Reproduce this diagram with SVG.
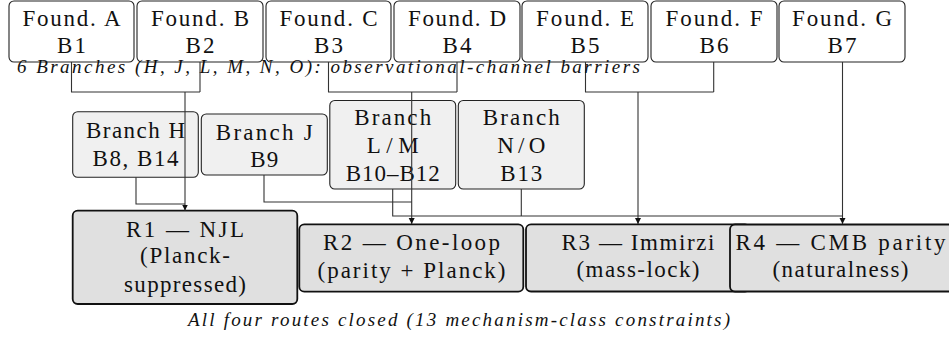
<svg xmlns="http://www.w3.org/2000/svg" width="949" height="344" viewBox="0 0 949 344">
<style>
.f{fill:#ffffff;stroke:#222;stroke-width:1.1}
.b{fill:#f0f0f0;stroke:#222;stroke-width:1.1}
.r{fill:#e0e0e0;stroke:#111;stroke-width:1.8}
.t{font-family:'Liberation Serif','DejaVu Serif',serif;font-size:23px;fill:#111;text-anchor:middle}
.c{font-family:'Liberation Serif','DejaVu Serif',serif;font-style:italic;font-size:19px;fill:#111}
.ln{fill:none;stroke:#333;stroke-width:1.1}
</style>
<defs>
<marker id="ah" markerUnits="userSpaceOnUse" markerWidth="8" markerHeight="8" refX="6" refY="3" orient="auto">
<path d="M0,0 L6,3 L0,6 z" fill="#111"/>
</marker>
</defs>
<rect x="0" y="0" width="949" height="344" fill="#ffffff"/>

<g id="foundA"><rect class="f" x="9" y="1" width="125" height="61" rx="5"/><text class="t" x="71.5" y="26" textLength="98" lengthAdjust="spacing">Found. A</text><text class="t" x="71.5" y="53" textLength="29" lengthAdjust="spacing">B1</text></g>
<g id="foundB"><rect class="f" x="137" y="1" width="126" height="61" rx="5"/><text class="t" x="200" y="26" textLength="98" lengthAdjust="spacing">Found. B</text><text class="t" x="200" y="53" textLength="29" lengthAdjust="spacing">B2</text></g>
<g id="foundC"><rect class="f" x="266" y="1" width="125" height="61" rx="5"/><text class="t" x="328.5" y="26" textLength="98" lengthAdjust="spacing">Found. C</text><text class="t" x="328.5" y="53" textLength="29" lengthAdjust="spacing">B3</text></g>
<g id="foundD"><rect class="f" x="394" y="1" width="126" height="61" rx="5"/><text class="t" x="457" y="26" textLength="98" lengthAdjust="spacing">Found. D</text><text class="t" x="457" y="53" textLength="29" lengthAdjust="spacing">B4</text></g>
<g id="foundE"><rect class="f" x="522" y="1" width="126" height="61" rx="5"/><text class="t" x="585" y="26" textLength="98" lengthAdjust="spacing">Found. E</text><text class="t" x="585" y="53" textLength="29" lengthAdjust="spacing">B5</text></g>
<g id="foundF"><rect class="f" x="651" y="1" width="126" height="61" rx="5"/><text class="t" x="714" y="26" textLength="97" lengthAdjust="spacing">Found. F</text><text class="t" x="714" y="53" textLength="29" lengthAdjust="spacing">B6</text></g>
<g id="foundG"><rect class="f" x="779" y="1" width="126" height="61" rx="5"/><text class="t" x="842" y="26" textLength="100" lengthAdjust="spacing">Found. G</text><text class="t" x="842" y="53" textLength="29" lengthAdjust="spacing">B7</text></g>

<g id="branchH"><rect class="b" x="72.7" y="111.7" width="125.6" height="65.6" rx="5"/><text class="t" x="135.5" y="137.7" textLength="99" lengthAdjust="spacing">Branch H</text><text class="t" x="135.5" y="165.7" textLength="86" lengthAdjust="spacing">B8, B14</text></g>
<g id="branchJ"><rect class="b" x="201.3" y="114" width="126" height="61" rx="5"/><text class="t" x="264.3" y="140" textLength="97" lengthAdjust="spacing">Branch J</text><text class="t" x="264.3" y="167" textLength="28" lengthAdjust="spacing">B9</text></g>
<g id="branchLM"><rect class="b" x="329.8" y="100.5" width="125.9" height="88.5" rx="5"/><text class="t" x="392.7" y="125" textLength="77" lengthAdjust="spacing">Branch</text><text class="t" x="392.7" y="153.3" textLength="52" lengthAdjust="spacing">L/M</text><text class="t" x="392.7" y="181" textLength="94" lengthAdjust="spacing">B10–B12</text></g>
<g id="branchNO"><rect class="b" x="458.3" y="100.5" width="126" height="88.5" rx="5"/><text class="t" x="521.3" y="124.5" textLength="77" lengthAdjust="spacing">Branch</text><text class="t" x="521.3" y="153.3" textLength="48" lengthAdjust="spacing">N/O</text><text class="t" x="521.3" y="180.7" textLength="42" lengthAdjust="spacing">B13</text></g>

<g id="R1"><rect class="r" x="72.7" y="210.7" width="224.6" height="93.3" rx="5"/><text class="t" x="185" y="236.7" textLength="118" lengthAdjust="spacing">R1 — NJL</text><text class="t" x="185" y="263.3" textLength="90" lengthAdjust="spacing">(Planck-</text><text class="t" x="185" y="291.7" textLength="122" lengthAdjust="spacing">suppressed)</text></g>
<g id="R2"><rect class="r" x="299.3" y="224.3" width="224" height="67.4" rx="5"/><text class="t" x="411.5" y="250" textLength="177" lengthAdjust="spacing">R2 — One-loop</text><text class="t" x="411.5" y="278" textLength="188" lengthAdjust="spacing">(parity + Planck)</text></g>
<g id="R3"><rect class="r" x="526" y="224.3" width="224" height="67.2" rx="5"/><text class="t" x="638" y="250" textLength="153" lengthAdjust="spacing">R3 — Immirzi</text><text class="t" x="638" y="277" textLength="123" lengthAdjust="spacing">(mass-lock)</text></g>
<g id="R4"><rect class="r" x="730" y="224.5" width="224" height="67" rx="5"/><text class="t" x="840.5" y="250" textLength="210" lengthAdjust="spacing">R4 — CMB parity</text><text class="t" x="840.5" y="277" textLength="136" lengthAdjust="spacing">(naturalness)</text></g>

<g id="connectors">
<path class="ln" d="M71.5,62 V92 H200 M200,62 V92"/>
<path class="ln" d="M185,92 V210.5" marker-end="url(#ah)"/>
<path class="ln" d="M328.5,62 V92 H457 M457,62 V92"/>
<path class="ln" d="M411.7,92 V224" marker-end="url(#ah)"/>
<path class="ln" d="M585.5,62 V92 H713.7 M713.7,62 V92"/>
<path class="ln" d="M638,92 V224" marker-end="url(#ah)"/>
<path class="ln" d="M842.5,62 V224" marker-end="url(#ah)"/>
<path class="ln" d="M136,177.3 V204 H185"/>
<path class="ln" d="M264,175 V202 H411.7"/>
<path class="ln" d="M392.7,189 V216 H842.5"/>
<path class="ln" d="M521.3,189 V216"/>
</g>

<g id="captions">
<text class="c" x="17" y="73" textLength="623" lengthAdjust="spacing">6 Branches (H, J, L, M, N, O): observational-channel barriers</text>
<text class="c" x="459" y="326" text-anchor="middle" textLength="542" lengthAdjust="spacing">All four routes closed (13 mechanism-class constraints)</text>
</g>
</svg>
